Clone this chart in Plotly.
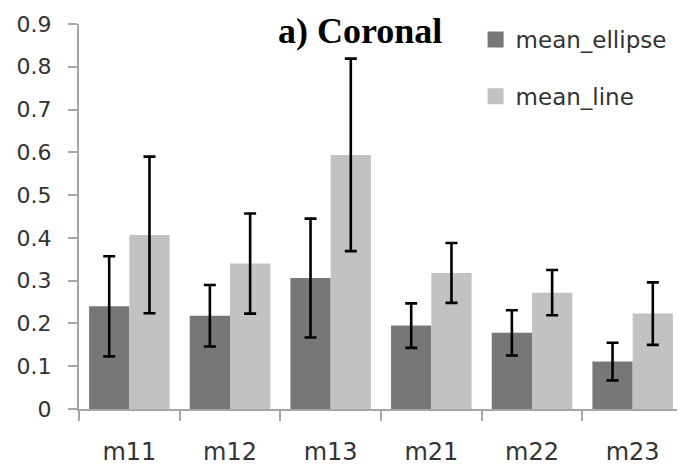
import plotly.graph_objects as go

categories = ["m11", "m12", "m13", "m21", "m22", "m23"]
mean_ellipse = [0.24, 0.218, 0.306, 0.195, 0.178, 0.111]
err_ellipse = [0.117, 0.072, 0.139, 0.052, 0.053, 0.044]
mean_line = [0.407, 0.34, 0.594, 0.318, 0.272, 0.223]
err_line = [0.183, 0.117, 0.225, 0.07, 0.053, 0.073]
series_names = ["mean_ellipse", "mean_line"]
series_colors = ["#777777", "#c2c2c2"]
y_ticks = [0, 0.1, 0.2, 0.3, 0.4, 0.5, 0.6, 0.7, 0.8, 0.9]
y_tick_labels = ["0", "0.1", "0.2", "0.3", "0.4", "0.5", "0.6", "0.7", "0.8", "0.9"]

font_family = "DejaVu Sans"
text_color = "#333333"
axis_color = "#a6a6a6"

fig = go.Figure()
for name, vals, errs, col, grp in zip(series_names, [mean_ellipse, mean_line],
                                      [err_ellipse, err_line], series_colors, ["a", "b"]):
    fig.add_trace(go.Bar(
        x=categories, y=vals, name=name, legendgroup=grp, showlegend=False,
        marker=dict(color=col, line=dict(width=0)),
        error_y=dict(type="data", array=errs, visible=True,
                     color="black", thickness=2.6, width=6),
    ))
    # legend entry with a larger square swatch
    fig.add_trace(go.Scatter(
        x=[None], y=[None], mode="markers", name=name, legendgroup=grp,
        marker=dict(symbol="square", size=17, color=col),
    ))

# page body has an 8px margin; size the figure so it fills the 685x475 window
fig.update_layout(
    width=677, height=467,
    margin=dict(l=71, r=2, t=16, b=66),
    paper_bgcolor="white", plot_bgcolor="white",
    barmode="group", bargap=0.2, bargroupgap=0,
    font=dict(family=font_family, size=22, color=text_color),
    showlegend=True,
    legend=dict(
        x=0.6566, y=1.0156, xanchor="left", yanchor="top",
        font=dict(family=font_family, size=23, color=text_color),
        traceorder="grouped", tracegroupgap=24, itemwidth=30,
        bgcolor="rgba(0,0,0,0)",
    ),
    annotations=[dict(
        text="<b>a) Coronal</b>", x=0.465, y=0.981, xref="paper", yref="paper",
        xanchor="center", yanchor="middle", showarrow=False,
        font=dict(family="Liberation Serif", size=36, color="black"),
    )],
)

fig.update_yaxes(
    range=[0, 0.9], tickvals=y_ticks, ticktext=y_tick_labels,
    showgrid=False, zeroline=False,
    showline=True, linecolor=axis_color, linewidth=2,
    ticks="outside", ticklen=9, tickcolor=axis_color, tickwidth=2,
    tickfont=dict(size=22, color=text_color), ticklabelstandoff=12,
    automargin=False,
)
fig.update_xaxes(
    showgrid=False, showline=True, linecolor=axis_color, linewidth=2,
    ticks="outside", tickson="boundaries", ticklen=10, tickcolor=axis_color, tickwidth=2,
    tickfont=dict(size=24, color=text_color), ticklabelstandoff=20,
    automargin=False,
)

fig.write_html("out.html")
